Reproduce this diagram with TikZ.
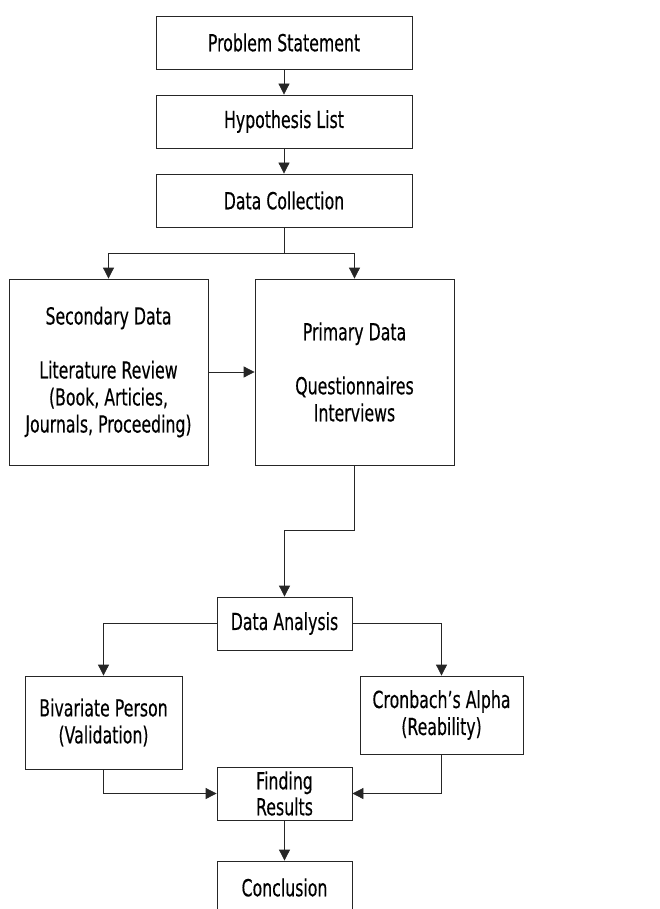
\documentclass[tikz,border=0pt]{standalone}
\usepackage{fontspec}
\setmainfont{DejaVu Sans}[FakeStretch=0.67,FakeBold=0.3]
\usetikzlibrary{arrows.meta}
\begin{document}
\begin{tikzpicture}[x=1pt,y=-1pt,
  box/.style={draw=black!85,line width=0.8pt,rectangle,align=center,inner sep=0pt,
    font=\fontsize{23.5}{27}\selectfont},
  arr/.style={draw=black!85,line width=0.8pt,-{Triangle[length=11pt,width=11pt]}}]
\useasboundingbox (0,0) rectangle (659,909);
% top column
\node[box,minimum width=256pt,minimum height=53pt] (prob) at (284,42.5) {Problem Statement};
\node[box,minimum width=256pt,minimum height=53pt] (hypo) at (284,121.5) {Hypothesis List};
\node[box,minimum width=256pt,minimum height=53pt] (coll) at (284,200.5) {Data Collection};
% data sources
\node[box,minimum width=199pt,minimum height=186pt] (second) at (108.5,372) {Secondary Data\\[27pt]Literature Review\\(Book, Articies,\\Journals, Proceeding)};
\node[box,minimum width=199pt,minimum height=186pt] (primary) at (354.5,372) {Primary Data\\[27pt]Questionnaires\\Interviews};
% analysis
\node[box,minimum width=135pt,minimum height=53pt] (anal) at (284.5,623.5) {Data Analysis};
\node[box,minimum width=157pt,minimum height=93pt] (bivar) at (103.5,722.5) {Bivariate Person\\(Validation)};
\node[box,minimum width=163pt,minimum height=78pt] (cronb) at (441.5,715) {Cronbach's Alpha\\(Reability)};
\node[box,minimum width=135pt,minimum height=53pt] (find) at (284.5,793.5) {Finding\\[-1pt]Results};
\node[box,minimum width=135pt,minimum height=53pt] (concl) at (284.5,887.5) {Conclusion};
\coordinate (split) at (284,253);
\coordinate (bend) at (354.5,530);
% connectors
\draw[arr] (prob) -- (hypo);
\draw[arr] (hypo) -- (coll);
\draw[arr] (coll.south) -- (split) -| (second.north);
\draw[arr] (split) -| (primary.north);
\draw[arr] (second) -- (primary);
\draw[arr] (primary.south) -- (bend) -| (anal.north);
\draw[arr] (anal.west) -| (bivar.north);
\draw[arr] (anal.east) -| (cronb.north);
\draw[arr] (bivar.south) |- (find.west);
\draw[arr] (cronb.south) |- (find.east);
\draw[arr] (find) -- (concl);
\end{tikzpicture}
\end{document}
